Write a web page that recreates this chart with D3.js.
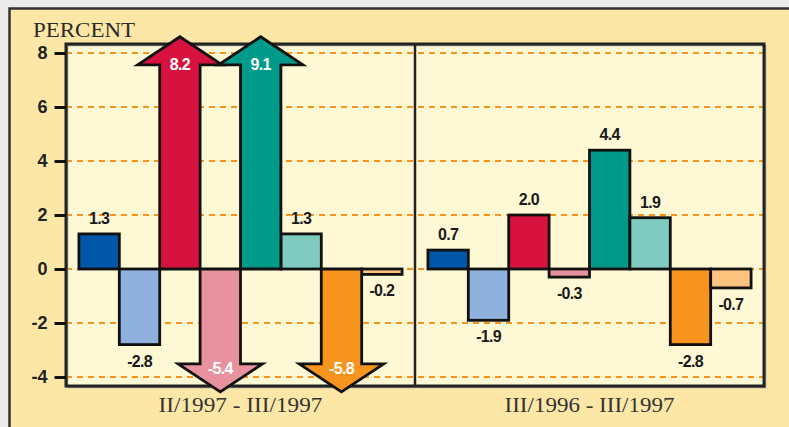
<!DOCTYPE html>
<html>
<head>
<meta charset="utf-8">
<script src="https://cdn.jsdelivr.net/npm/d3@7"></script>
<style>
  html, body { margin: 0; padding: 0; background: #ebebeb; }
  svg { display: block; }
</style>
</head>
<body>
<svg id="chart" width="789" height="427"></svg>
<script>
// ---- data ----
const periods = ["II/1997 - III/1997", "III/1996 - III/1997"];
const seriesIndex = [0, 1, 2, 3, 4, 5, 6, 7];
const seriesColors = ["#0057a8", "#8fb1de", "#d7123f", "#e8919f", "#009a8a", "#7fcbbf", "#f7941d", "#fdc47f"];
const quarterValues = [1.3, -2.8, 8.2, -5.4, 9.1, 1.3, -5.8, -0.2];
const annualValues = [0.7, -1.9, 2.0, -0.3, 4.4, 1.9, -2.8, -0.7];
const yTicks = [-4, -2, 0, 2, 4, 6, 8];
const yTitle = "PERCENT";

// ---- layout ----
const plot = { left: 66, right: 764, top: 44, bottom: 386 };
const svg = d3.select("#chart");

const y = d3.scaleLinear().domain([-4, 8]).range([377, 53]);
const xOuter = d3.scaleBand().domain(periods).range([plot.left, plot.right]).padding(0);
const xInner = d3.scaleBand().domain(seriesIndex).range([0, xOuter.bandwidth()]).paddingInner(0).paddingOuter(0.32);

const fmt1 = v => v.toFixed(1);
const fmt0 = v => String(v);

const arrowLimit = 5;          // values beyond this magnitude are drawn as off-scale arrows
const upTip = 8.6, downTip = -4.55;
const headH = 28, headO = 22;
const numFont = "'Liberation Sans', Arial, sans-serif";
const serifFont = "'Liberation Serif', 'Times New Roman', serif";

// outer frame
svg.append("rect").attr("x", 9.5).attr("y", 8.5).attr("width", 820).attr("height", 440)
  .attr("fill", "#fde7a7").attr("stroke", "#333").attr("stroke-width", 2.5);

// plot background
svg.append("rect").attr("x", plot.left).attr("y", plot.top)
  .attr("width", plot.right - plot.left).attr("height", plot.bottom - plot.top)
  .attr("fill", "#fff8d5");

// gridlines
svg.append("g").selectAll("line").data(yTicks).join("line")
  .attr("x1", plot.left).attr("x2", plot.right)
  .attr("y1", d => y(d)).attr("y2", d => y(d))
  .attr("stroke", "#f7941d").attr("stroke-width", 2).attr("stroke-dasharray", "6,5");

const groupsData = [
  { period: periods[0], values: quarterValues },
  { period: periods[1], values: annualValues }
];

// plot shadow
svg.append("rect").attr("x", plot.left + 1.5).attr("y", plot.top + 1.5)
  .attr("width", plot.right - plot.left).attr("height", plot.bottom - plot.top)
  .attr("fill", "none").attr("stroke", "#999").attr("stroke-width", 1.5);

const barsG = svg.append("g");
const borderG = svg.append("g");
const arrowsG = svg.append("g");
const labelsG = svg.append("g");

groupsData.forEach(g => {
  const gx = xOuter(g.period);
  g.values.forEach((v, i) => {
    const x0 = gx + xInner(i), w = xInner.bandwidth();
    const isArrow = Math.abs(v) >= arrowLimit;
    const lbl = fmt1(v);
    if (!isArrow) {
      barsG.append("rect")
        .attr("x", x0).attr("width", w)
        .attr("y", Math.min(y(v), y(0))).attr("height", Math.abs(y(v) - y(0)))
        .attr("fill", seriesColors[i]).attr("stroke", "#111").attr("stroke-width", 2.8);
      labelsG.append("text")
        .attr("x", x0 + w / 2)
        .attr("y", v >= 0 ? y(v) - 10 : y(v) + 22)
        .attr("text-anchor", "middle")
        .attr("font-family", numFont)
        .attr("font-weight", "bold").attr("font-size", 16).attr("letter-spacing", -0.7)
        .attr("fill", "#1a1a1a").text(lbl);
    } else {
      const y0 = y(0);
      const tip = v > 0 ? y(upTip) : y(downTip);
      const base = v > 0 ? tip + headH : tip - headH;
      const p = d3.path();
      p.moveTo(x0, y0);
      p.lineTo(x0, base);
      p.lineTo(x0 - headO, base);
      p.lineTo(x0 + w / 2, tip);
      p.lineTo(x0 + w + headO, base);
      p.lineTo(x0 + w, base);
      p.lineTo(x0 + w, y0);
      p.closePath();
      arrowsG.append("path").attr("d", p.toString())
        .attr("fill", seriesColors[i]).attr("stroke", "#111").attr("stroke-width", 2.8)
        .attr("stroke-linejoin", "miter");
      arrowsG.append("text")
        .attr("x", x0 + w / 2)
        .attr("y", v > 0 ? base + 5.5 : base + 10)
        .attr("text-anchor", "middle")
        .attr("font-family", numFont)
        .attr("font-weight", "bold").attr("font-size", 16).attr("letter-spacing", -0.7)
        .attr("fill", "#fff").text(lbl);
    }
  });
});

borderG.append("rect").attr("x", plot.left).attr("y", plot.top)
  .attr("width", plot.right - plot.left).attr("height", plot.bottom - plot.top)
  .attr("fill", "none").attr("stroke", "#222").attr("stroke-width", 3);
borderG.append("line")
  .attr("x1", xOuter(periods[1])).attr("x2", xOuter(periods[1]))
  .attr("y1", plot.top).attr("y2", plot.bottom)
  .attr("stroke", "#222").attr("stroke-width", 2.5);

// y axis
const yAxis = d3.axisLeft(y).tickValues(yTicks).tickSize(11).tickPadding(7).tickFormat(fmt0);
const ag = svg.append("g").attr("transform", `translate(${plot.left - 0.5},0)`).call(yAxis);
ag.select(".domain").remove();
ag.selectAll(".tick line").attr("stroke", "#111").attr("stroke-width", 3);
ag.selectAll(".tick text")
  .attr("font-family", numFont)
  .attr("font-weight", "bold").attr("font-size", 18).attr("fill", "#222");

// y title
svg.append("text").attr("x", 33).attr("y", 36.5)
  .attr("font-family", serifFont)
  .attr("font-size", 21).attr("fill", "#2a2a2a")
  .attr("textLength", 102).attr("lengthAdjust", "spacingAndGlyphs")
  .text(yTitle);

// period labels
svg.append("g").selectAll("text").data(periods).join("text")
  .attr("x", d => xOuter(d) + xOuter.bandwidth() / 2)
  .attr("y", 412)
  .attr("text-anchor", "middle")
  .attr("font-family", serifFont)
  .attr("font-size", 20).attr("fill", "#333")
  .attr("textLength", (d, i) => i === 0 ? 164 : 170).attr("lengthAdjust", "spacingAndGlyphs")
  .text(d => d);
</script>
</body>
</html>
